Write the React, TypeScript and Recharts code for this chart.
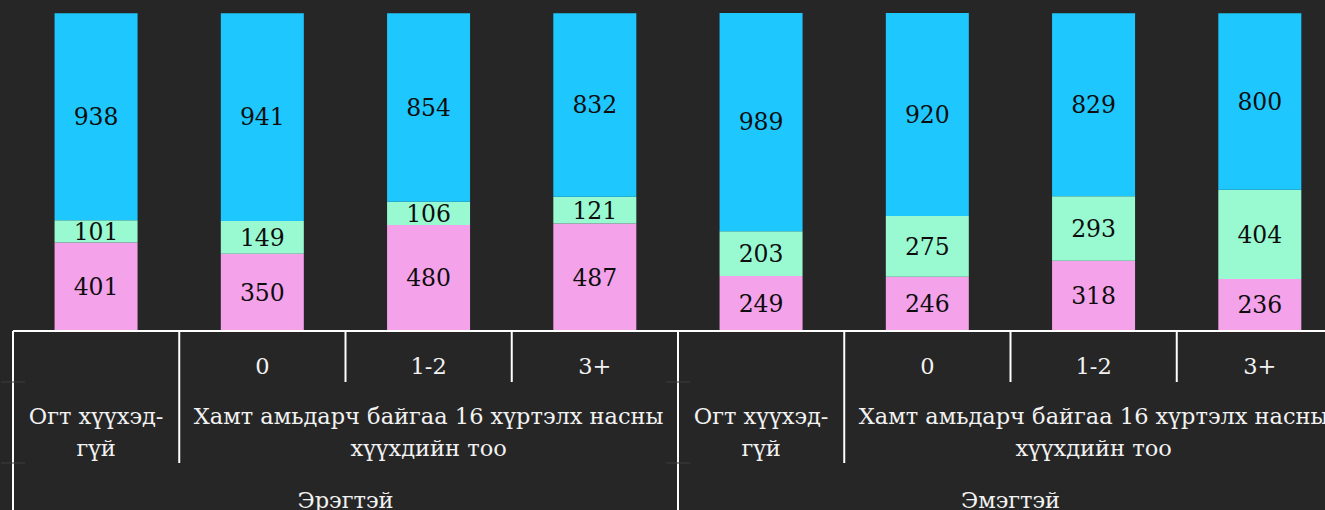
import React from "react";
import { BarChart, Bar, XAxis, YAxis, LabelList } from "recharts";

const categories = ["", "0", "1-2", "3+", "", "0", "1-2", "3+"];
const groupLabels = [
  "Огт хүүхэд-\nгүй",
  "Хамт амьдарч байгаа 16 хүртэлх насны\nхүүхдийн тоо",
  "Хамт амьдарч байгаа 16 хүртэлх насны\nхүүхдийн тоо",
  "Хамт амьдарч байгаа 16 хүртэлх насны\nхүүхдийн тоо",
  "Огт хүүхэд-\nгүй",
  "Хамт амьдарч байгаа 16 хүртэлх насны\nхүүхдийн тоо",
  "Хамт амьдарч байгаа 16 хүртэлх насны\nхүүхдийн тоо",
  "Хамт амьдарч байгаа 16 хүртэлх насны\nхүүхдийн тоо",
];
const genderLabels = ["Эрэгтэй", "Эрэгтэй", "Эрэгтэй", "Эрэгтэй", "Эмэгтэй", "Эмэгтэй", "Эмэгтэй", "Эмэгтэй"];
const bottomValues = [401, 350, 480, 487, 249, 246, 318, 236];
const middleValues = [101, 149, 106, 121, 203, 275, 293, 404];
const topValues = [938, 941, 854, 832, 989, 920, 829, 800];

const FONT = "'DejaVu Serif', 'Liberation Serif', serif";
const BG = "#262626";
const AXIS_TEXT = "#f2f2f2";
const AXIS_FS = 22.5;

const data = categories.map((c, i) => ({
  key: `${genderLabels[i]}|${groupLabels[i]}|${c}|${i}`,
  bottom: bottomValues[i],
  middle: middleValues[i],
  top: topValues[i],
}));

const n = categories.length;

function sameGroup(i: number, j: number) {
  return genderLabels[i] === genderLabels[j] && groupLabels[i] === groupLabels[j];
}

function MultiTick(props: any) {
  const { x, y, index } = props;
  const axisWidth = props.width && props.width > 200 ? props.width : 1330;
  const band = axisWidth / n;
  const left = x - band / 2;
  const els: React.ReactNode[] = [];

  let lineEnd = y + 51;
  if (index === 0 || genderLabels[index] !== genderLabels[index - 1]) lineEnd = y + 240;
  else if (!sameGroup(index, index - 1)) lineEnd = y + 132;
  els.push(<line key="sep" x1={left} y1={y} x2={left} y2={lineEnd} stroke="#ffffff" strokeWidth={2} />);
  if (lineEnd > y + 200) {
    els.push(<line key="g1" x1={left - 12} y1={y + 51} x2={left + 12} y2={y + 51} stroke="#3c3c3c" strokeWidth={1} />);
    els.push(<line key="g2" x1={left - 12} y1={y + 132} x2={left + 12} y2={y + 132} stroke="#3c3c3c" strokeWidth={1} />);
  }

  if (categories[index]) {
    els.push(
      <text key="l1" x={x} y={y + 43} textAnchor="middle" fill={AXIS_TEXT} fontSize={AXIS_FS} fontFamily={FONT}>
        {categories[index]}
      </text>
    );
  }

  if (index === 0 || !sameGroup(index, index - 1)) {
    let span = 1;
    while (index + span < n && sameGroup(index, index + span)) span++;
    const cx = left + (span * band) / 2;
    const lines = groupLabels[index].split("\n");
    lines.forEach((ln, k) => {
      els.push(
        <text key={`l2-${k}`} x={cx} y={y + 93 + k * 32} textAnchor="middle" fill={AXIS_TEXT} fontSize={AXIS_FS} fontFamily={FONT}>
          {ln}
        </text>
      );
    });
  }

  if (index === 0 || genderLabels[index] !== genderLabels[index - 1]) {
    let span = 1;
    while (index + span < n && genderLabels[index + span] === genderLabels[index]) span++;
    const cx = left + (span * band) / 2;
    els.push(
      <text key="l3" x={cx} y={y + 177} textAnchor="middle" fill={AXIS_TEXT} fontSize={AXIS_FS} fontFamily={FONT}>
        {genderLabels[index]}
      </text>
    );
  }

  return <g>{els}</g>;
}

const labelStyle = { fill: "#0d0d0d", fontSize: 23.5, fontFamily: FONT };

export default function App() {
  return (
    <div
      style={{
        position: "fixed",
        left: 0,
        top: 0,
        width: 1325,
        height: 510,
        overflow: "hidden",
        background: BG,
      }}
    >
      <BarChart
        width={1343}
        height={560}
        data={data}
        margin={{ top: 13, right: 0, bottom: 0, left: 13 }}
        barCategoryGap="25%"
      >
        <XAxis
          dataKey="key"
          interval={0}
          height={229}
          tickSize={0}
          tickMargin={0}
          tickLine={false}
          axisLine={{ stroke: "#ffffff", strokeWidth: 2 }}
          tick={<MultiTick />}
        />
        <YAxis hide domain={[0, "dataMax"]} />
        <Bar dataKey="bottom" stackId="a" fill="#f4a2ea" isAnimationActive={false}>
          <LabelList dataKey="bottom" position="center" style={labelStyle} />
        </Bar>
        <Bar dataKey="middle" stackId="a" fill="#99fad2" isAnimationActive={false}>
          <LabelList dataKey="middle" position="center" style={labelStyle} />
        </Bar>
        <Bar dataKey="top" stackId="a" fill="#1ec8fe" isAnimationActive={false}>
          <LabelList dataKey="top" position="center" style={labelStyle} />
        </Bar>
      </BarChart>
    </div>
  );
}
